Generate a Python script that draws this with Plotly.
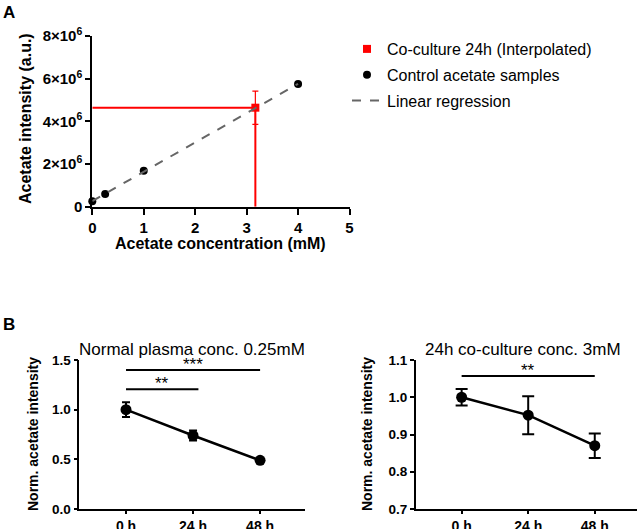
import numpy as np
import plotly.graph_objects as go

W, H = 641, 529


def px(x):
    return x / W


def py(y):
    return 1 - y / H


# ---------------- Data ----------------
# Panel A: calibration
conc = [0, 0.25, 1, 4]
intensity = [0.25e6, 0.59e6, 1.68e6, 5.75e6]
cocult_conc = [3.17]
cocult_int = [4.64e6]
cocult_int_err = [0.78e6]
a_ytickvals = [0, 2e6, 4e6, 6e6, 8e6]
a_yticktext = ["0", "2×10<sup>6</sup>", "4×10<sup>6</sup>", "6×10<sup>6</sup>", "8×10<sup>6</sup>"]
a_xtickvals = [0, 1, 2, 3, 4, 5]

# Panel B
time_labels = ["0 h", "24 h", "48 h"]
time_pos = [0, 1, 2]
normal_mean = [1.0, 0.74, 0.49]
normal_err = [0.075, 0.05, 0.012]
cocult_mean = [1.0, 0.952, 0.870]
cocult_err = [0.022, 0.051, 0.033]
normal_sig = [(0, 1.08, 1.205, "**"), (0, 2, 1.40, "***")]
cocult_sig = [(0, 2, 1.057, "**")]

# regression
slope, intercept = np.polyfit(conc, intensity, 1)
reg_x = [0, 4]
reg_y = [intercept + slope * v for v in reg_x]

FONT = "Liberation Sans, Arial, sans-serif"
fig = go.Figure()

# ---- Panel A traces ----
fig.add_trace(go.Scatter(x=[0, cocult_conc[0]], y=[cocult_int[0], cocult_int[0]], mode="lines",
                         line=dict(color="#ff0000", width=2), showlegend=False, hoverinfo="skip",
                         xaxis="x", yaxis="y", cliponaxis=False))
fig.add_trace(go.Scatter(x=[cocult_conc[0], cocult_conc[0]], y=[0, cocult_int[0]], mode="lines",
                         line=dict(color="#ff0000", width=2), showlegend=False, hoverinfo="skip",
                         xaxis="x", yaxis="y", cliponaxis=False))
fig.add_trace(go.Scatter(x=cocult_conc, y=cocult_int, mode="markers",
                         marker=dict(symbol="square", size=8, color="#ff0000"),
                         error_y=dict(type="data", array=cocult_int_err, color="#ff0000", thickness=1.2, width=3),
                         name="Co-culture 24h (Interpolated)", legendgroup="a",
                         xaxis="x", yaxis="y", cliponaxis=False))
fig.add_trace(go.Scatter(x=conc, y=intensity, mode="markers",
                         marker=dict(symbol="circle", size=8, color="black"),
                         name="Control acetate samples", legendgroup="b",
                         xaxis="x", yaxis="y", cliponaxis=False))
fig.add_trace(go.Scatter(x=reg_x, y=reg_y, mode="lines",
                         line=dict(color="#666666", width=2, dash="dash"),
                         name="Linear regression", legendgroup="c",
                         xaxis="x", yaxis="y", cliponaxis=False))

# ---- Panel B traces ----
fig.add_trace(go.Scatter(x=time_pos, y=normal_mean, mode="lines+markers",
                         line=dict(color="black", width=2.5),
                         marker=dict(size=11, color="black"),
                         error_y=dict(type="data", array=normal_err, color="black", thickness=2, width=4),
                         showlegend=False, xaxis="x2", yaxis="y2", cliponaxis=False))
fig.add_trace(go.Scatter(x=time_pos, y=cocult_mean, mode="lines+markers",
                         line=dict(color="black", width=2.5),
                         marker=dict(size=11, color="black"),
                         error_y=dict(type="data", array=cocult_err, color="black", thickness=2, width=6),
                         showlegend=False, xaxis="x3", yaxis="y3", cliponaxis=False))


def axis_style(size, lw=2, tl=5):
    return dict(showline=True, linecolor="black", linewidth=lw, ticks="outside", ticklen=tl,
                tickwidth=lw, tickcolor="black", showgrid=False, zeroline=False, automargin=False,
                tickfont=dict(family=FONT, size=size, color="black", weight="bold"))


fig.update_layout(
    width=W, height=H, margin=dict(l=0, r=0, t=0, b=0, autoexpand=False),
    plot_bgcolor="white", paper_bgcolor="white",
    font=dict(family=FONT, color="black"),
    xaxis=dict(domain=[px(92.3), px(349.5)], range=[0, 5], tickvals=a_xtickvals, anchor="y",
               **axis_style(15, 2, 6)),
    yaxis=dict(domain=[py(206.7), py(36)], range=[0, 8e6], tickvals=a_ytickvals, ticktext=a_yticktext,
               anchor="x", **axis_style(15)),
    xaxis2=dict(domain=[px(79.3), px(305)], range=[-0.697, 2.67], tickvals=time_pos, ticktext=time_labels,
                anchor="y2", **axis_style(14, 1.5, 3)),
    yaxis2=dict(domain=[py(509), py(360)], range=[0, 1.5], tickvals=[0, 0.5, 1.0, 1.5], tickformat=".1f",
                anchor="x2", **axis_style(13.5, 1.5, 4)),
    xaxis3=dict(domain=[px(415.7), px(636.7)], range=[-0.69, 2.63], tickvals=time_pos, ticktext=time_labels,
                anchor="y3", **axis_style(14, 1.5, 3)),
    yaxis3=dict(domain=[py(509), py(360)], range=[0.7, 1.1], tickvals=[0.7, 0.8, 0.9, 1.0, 1.1],
                tickformat=".1f", anchor="x3", **axis_style(13.5, 1.5, 4)),
    legend=dict(x=px(347), y=py(32), xanchor="left", yanchor="top", traceorder="grouped",
                tracegroupgap=2, font=dict(family=FONT, size=16, color="black"),
                bgcolor="rgba(0,0,0,0)"),
)

shapes = []
ann = []
for (x0, x1, yv, stars) in normal_sig:
    shapes.append(dict(type="line", xref="x2", yref="y2", x0=x0, x1=x1, y0=yv, y1=yv,
                       line=dict(color="black", width=2)))
    ann.append(dict(xref="x2", yref="y2", x=(x0 + x1) / 2, y=yv, text=stars, showarrow=False,
                    xanchor="center", yanchor="bottom", yshift=-6,
                    font=dict(family=FONT, size=17, color="black")))
for (x0, x1, yv, stars) in cocult_sig:
    shapes.append(dict(type="line", xref="x3", yref="y3", x0=x0, x1=x1, y0=yv, y1=yv,
                       line=dict(color="black", width=2)))
    ann.append(dict(xref="x3", yref="y3", x=(x0 + x1) / 2, y=yv, text=stars, showarrow=False,
                    xanchor="center", yanchor="bottom", yshift=-6,
                    font=dict(family=FONT, size=17, color="black")))

bold = dict(family=FONT, size=16, color="black", weight="bold")
bold14 = dict(family=FONT, size=14, color="black", weight="bold")
plain17 = dict(family=FONT, size=17, color="black")


def label(x, y, text, font, angle=0, xa="center", ya="middle"):
    return dict(xref="paper", yref="paper", x=px(x), y=py(y), text=text, showarrow=False,
                xanchor=xa, yanchor=ya, textangle=angle, font=font)


ann += [
    label(1, 1, "A", dict(family=FONT, size=17, color="black", weight="bold"), xa="left", ya="top"),
    label(1, 313, "B", dict(family=FONT, size=17, color="black", weight="bold"), xa="left", ya="top"),
    label(220, 244, "Acetate concentration (mM)", bold),
    label(25, 119, "Acetate intensity (a.u.)", bold, angle=-90),
    label(33, 434, "Norm. acetate intensity", bold14, angle=-90),
    label(367, 434, "Norm. acetate intensity", bold14, angle=-90),
    label(192, 349, "Normal plasma conc. 0.25mM", plain17),
    label(523, 349, "24h co-culture conc. 3mM", plain17),
]
fig.update_layout(shapes=shapes, annotations=ann)

fig.write_html("out.html", config={"displayModeBar": False},
               post_script="document.body.style.margin='0';document.body.style.padding='0';")
